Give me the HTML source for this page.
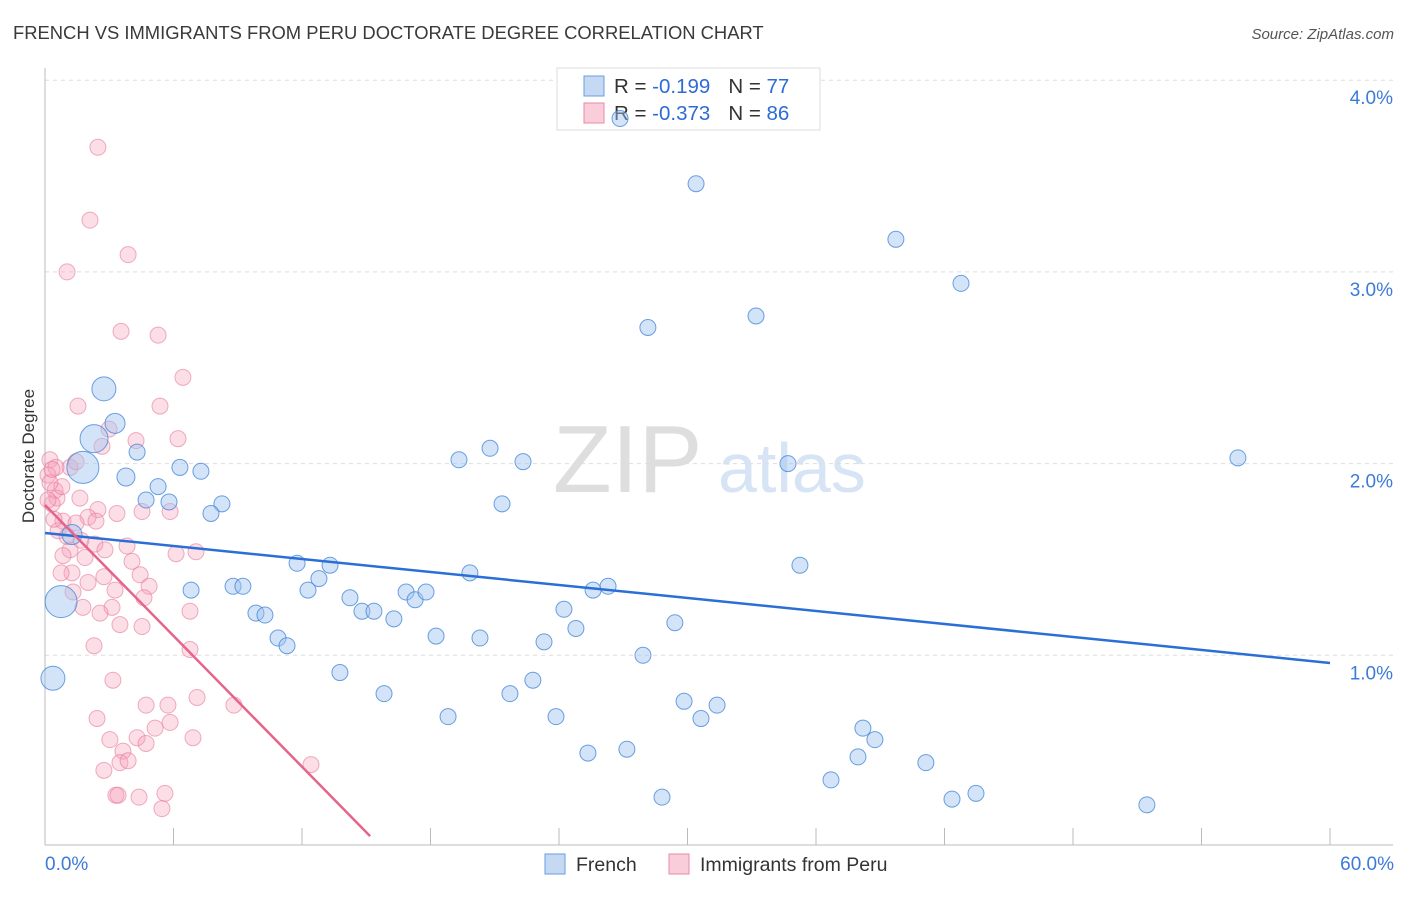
<!DOCTYPE html>
<html><head><meta charset="utf-8"><style>
body{margin:0;background:#fff;font-family:"Liberation Sans",sans-serif}
svg text{font-family:"Liberation Sans",sans-serif}
</style></head><body>
<svg id="chart" width="1406" height="892" viewBox="0 0 1406 892" xmlns="http://www.w3.org/2000/svg">
<text x="13" y="39" font-size="18.4" fill="#3a3a3a">FRENCH VS IMMIGRANTS FROM PERU DOCTORATE DEGREE CORRELATION CHART</text>
<text x="1394" y="39" font-size="15" fill="#555" font-style="italic" text-anchor="end">Source: ZipAtlas.com</text>
<g>
<text x="553" y="492" font-size="96" fill="#dedede" font-family="Liberation Serif, serif">ZIP</text>
<text x="718" y="492" font-size="70" fill="#d6e4f5">atlas</text>
</g>
<g id="grid"></g>
<g id="axes"></g>
<g>
<rect x="557" y="68" width="263" height="62" fill="#fff" stroke="#ddd"/>
<rect x="584" y="76" width="20" height="20" fill="#c5d9f3" stroke="#6a9ee0"/>
<text x="614" y="93" font-size="20.5" fill="#333">R = <tspan fill="#2d6bd6">-0.199</tspan><tspan dx="18">N = </tspan><tspan fill="#2d6bd6">77</tspan></text>
<rect x="584" y="103" width="20" height="20" fill="#f9cdd9" stroke="#e88aa6"/>
<text x="614" y="120" font-size="20.5" fill="#333">R = <tspan fill="#2d6bd6">-0.373</tspan><tspan dx="18">N = </tspan><tspan fill="#2d6bd6">86</tspan></text>
</g>
<g id="points"></g>
<g id="lines"></g>
<text transform="translate(34,456) rotate(-90)" font-size="17" fill="#333" text-anchor="middle">Doctorate Degree</text>
<g>
<rect x="545" y="854" width="20" height="20" fill="#c5d9f3" stroke="#6a9ee0"/>
<text x="576" y="871" font-size="19.5" fill="#333">French</text>
<rect x="669" y="854" width="20" height="20" fill="#f9cdd9" stroke="#e88aa6"/>
<text x="700" y="871" font-size="19.5" fill="#333">Immigrants from Peru</text>
</g>
</svg>
<script>
const yTicks=[1,2,3,4];
const yTickLabels=["1.0%","2.0%","3.0%","4.0%"];
const xTickLabels=["0.0%","60.0%"];
const frenchX=[26.85,30.40,39.73,42.77,28.15,33.20,2.75,3.27,2.29,1.77,4.30,3.78,6.30,7.28,5.28,4.72,5.79,8.26,7.75,19.33,20.78,22.32,34.69,55.70,21.34,0.75,0.37,1.26,11.77,13.31,12.79,12.28,6.82,8.78,9.24,14.24,14.80,15.36,16.29,16.86,17.28,17.79,19.84,24.23,25.59,26.29,35.25,9.85,10.27,10.88,11.30,18.26,20.31,23.30,24.79,29.41,27.92,13.77,15.83,18.82,21.71,22.78,23.86,29.84,30.63,31.38,25.35,27.17,28.81,36.70,37.96,38.19,38.75,41.13,42.35,43.47,51.45];
const frenchY=[3.80,3.46,3.17,2.94,2.71,2.77,2.39,2.21,2.13,1.98,2.06,1.93,1.98,1.96,1.88,1.81,1.80,1.79,1.74,2.02,2.08,2.01,2.00,2.03,1.79,1.28,0.88,1.63,1.48,1.47,1.40,1.34,1.34,1.36,1.36,1.30,1.23,1.23,1.19,1.33,1.29,1.33,1.43,1.24,1.34,1.36,1.47,1.22,1.21,1.09,1.05,1.10,1.09,1.07,1.14,1.17,1.00,0.91,0.80,0.68,0.80,0.87,0.68,0.76,0.67,0.74,0.49,0.51,0.26,0.35,0.47,0.62,0.56,0.44,0.25,0.28,0.22];
const frenchR=[8,8,8,8,8,8,12,10,14,16,8,9,8,8,8,8,8,8,8,8,8,8,8,8,8,16,12,10];
const peruX=[2.47,2.10,3.88,1.03,3.55,5.28,6.44,1.54,5.37,2.99,4.25,6.21,2.66,0.23,1.17,0.51,1.45,0.47,0.56,0.33,1.63,2.47,3.36,4.53,5.84,0.84,2.01,1.45,0.61,2.38,1.68,2.33,1.17,2.80,3.83,6.12,7.05,0.84,4.06,1.26,2.75,0.75,4.44,4.86,2.01,1.31,3.13,1.77,4.62,6.77,2.57,4.53,3.50,2.29,6.77,3.17,7.10,4.72,5.74,8.82,2.43,5.14,5.84,3.03,4.30,4.72,6.91,3.64,3.50,3.88,2.75,12.42,3.31,3.41,4.39,5.60,5.46,0.79,0.42,1.87,3.27,0.14,0.14,0.23,0.33,1.03];
const peruY=[3.65,3.27,3.09,3.00,2.69,2.67,2.45,2.30,2.30,2.18,2.12,2.13,2.09,2.02,1.98,1.98,2.01,1.86,1.82,1.79,1.82,1.76,1.74,1.75,1.75,1.70,1.72,1.69,1.65,1.70,1.60,1.58,1.55,1.55,1.57,1.53,1.54,1.52,1.49,1.43,1.41,1.43,1.42,1.36,1.38,1.33,1.25,1.25,1.30,1.23,1.22,1.15,1.16,1.05,1.03,0.87,0.78,0.74,0.74,0.74,0.67,0.62,0.65,0.56,0.57,0.54,0.57,0.50,0.44,0.45,0.40,0.43,0.27,0.27,0.26,0.28,0.20,1.88,1.71,1.51,1.34,1.94,1.81,1.90,1.97,1.62];
const frenchLine=[1.638,0.960];
const peruLine=[1.784,0.057,15.18];
const NS="http://www.w3.org/2000/svg";
const xs=v=>45+v/60*1285, ys=v=>847-v*191.7;
function mk(t,a,p){const e=document.createElementNS(NS,t);for(const k in a)e.setAttribute(k,a[k]);p.appendChild(e);return e;}
const grid=document.getElementById('grid'),axes=document.getElementById('axes'),pts=document.getElementById('points'),lines=document.getElementById('lines');
yTicks.forEach((t,i)=>{
 const l=mk('line',{x1:45,x2:1393,y1:ys(t),y2:ys(t),stroke:'#ddd','stroke-dasharray':'4,4'},grid);
 
 
 const tx=mk('text',{x:1393,y:ys(t)+24,'font-size':19,fill:'#3d7ad8','text-anchor':'end'},axes);
 tx.textContent=yTickLabels[i];
 
 
});
mk('line',{x1:45,x2:45,y1:68,y2:845,stroke:'#bbb'},axes);
const xa=mk('line',{x1:45,x2:1393,y1:845,y2:845,stroke:'#bbb'},axes);


for(let k=1;k<=10;k++){const tk=mk('line',{x1:xs(k*6),x2:xs(k*6),y1:828,y2:845,stroke:'#bbb'},axes);
 
 }
[[0,45,'start'],[60,1394,'end']].forEach((d,i)=>{const tx=mk('text',{x:d[1],y:870,'font-size':19,fill:'#3d7ad8','text-anchor':d[2]},axes);tx.textContent=xTickLabels[i];
 
 });
peruX.forEach((x,i)=>{const c=mk('circle',{cx:xs(x),cy:ys(peruY[i]),r:8,fill:'rgba(245,160,185,0.35)',stroke:'rgba(230,120,155,0.6)','stroke-width':1},pts);
 
 });
frenchX.forEach((x,i)=>{const c=mk('circle',{cx:xs(x),cy:ys(frenchY[i]),r:frenchR[i]||8,fill:'rgba(160,195,240,0.45)',stroke:'rgba(60,130,215,0.75)','stroke-width':1},pts);
 
 });
const fl=mk('line',{x1:xs(0),y1:ys(frenchLine[0]),x2:xs(60),y2:ys(frenchLine[1]),stroke:'#2a6fd6','stroke-width':2.5},lines);


const pl=mk('line',{x1:xs(0),y1:ys(peruLine[0]),x2:xs(peruLine[2]),y2:ys(peruLine[1]),stroke:'#e5648c','stroke-width':2.5},lines);


</script>
</body></html>
